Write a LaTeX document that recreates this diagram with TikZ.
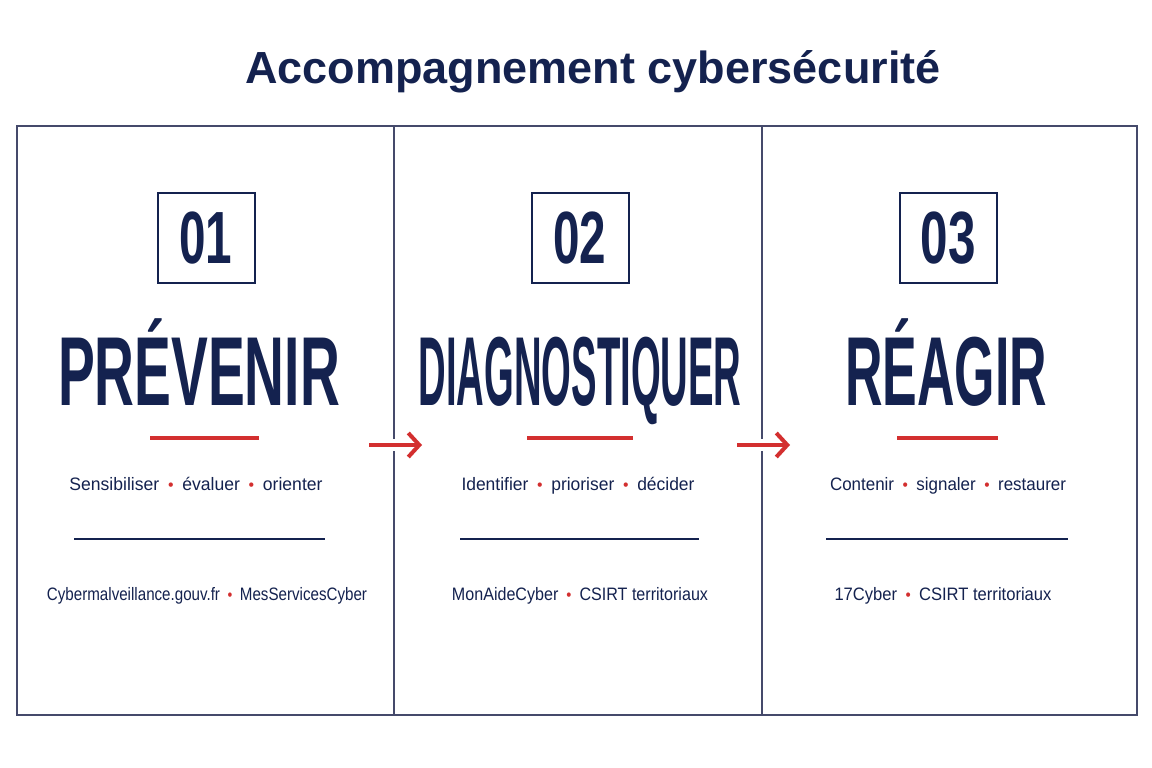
\documentclass[tikz,border=0pt]{standalone}
\usepackage{fontspec}
\setmainfont{Liberation Sans}
\usetikzlibrary{arrows.meta, positioning}
\definecolor{navy}{HTML}{14224F}
\definecolor{framegray}{HTML}{454A6B}
\definecolor{accred}{HTML}{D32F2F}
\newcommand{\dotsep}{\hspace{0.5em}{\color{accred}\scalebox{0.9}{\textbullet}}\hspace{0.5em}}
\newcommand{\squeeze}[2]{\resizebox{#1pt}{\height}{#2}}

\begin{document}
\begin{tikzpicture}[
    x=1pt, y=-1pt,
    panel/.style={rectangle, draw=framegray, line width=1.5pt, minimum height=589pt, anchor=north west, inner sep=0pt},
    numbox/.style={rectangle, draw=navy, line width=2pt, minimum width=97pt, minimum height=90pt, inner sep=0pt, text=navy, font=\fontsize{74}{74}\selectfont\bfseries},
    bigword/.style={anchor=base, inner sep=0pt, text=navy, font=\fontsize{98}{98}\selectfont\bfseries},
    tagline/.style={anchor=base, inner sep=0pt, text=navy, font=\fontsize{18}{18}\selectfont},
    redrule/.style={draw=accred, line width=3.5pt},
    navyrule/.style={draw=navy, line width=2.3pt},
    arrow/.style={draw=accred, line width=4pt, -{Straight Barb[length=11pt, width=24pt]},
        preaction={draw=white, line width=12pt, -}}
]
\useasboundingbox[fill=white] (0,0) rectangle (1152,768);

% Title
\node (title) [anchor=base, inner sep=0pt, text=navy, font=\fontsize{45}{45}\selectfont\bfseries] at (593,84) {Accompagnement cybersécurité};

% Panels
\node (p1) [panel, minimum width=377pt] at (16,125) {};
\node (p2) [panel, minimum width=368pt] at (393,125) {};
\node (p3) [panel, minimum width=375pt] at (761,125) {};

% Nodes
\node (n1) [numbox] at (206,238) {\squeeze{53}{01}};
\node (n2) [numbox] at (580,238) {\squeeze{53}{02}};
\node (n3) [numbox] at (948,238) {\squeeze{55}{03}};

\node (w1) [bigword] at (199,405) {\squeeze{282}{PRÉVENIR}};
\node (w2) [bigword] at (580,405) {\squeeze{323}{DIAGNOSTIQUER}};
\node (w3) [bigword] at (946,405) {\squeeze{202}{RÉAGIR}};

\node (v1) [tagline] at (196,490) {\squeeze{253}{Sensibiliser\dotsep évaluer\dotsep orienter}};
\node (v2) [tagline] at (578,490) {\squeeze{233}{Identifier\dotsep prioriser\dotsep décider}};
\node (v3) [tagline] at (948,490) {\squeeze{236}{Contenir\dotsep signaler\dotsep restaurer}};

\node (r1) [tagline] at (207,600) {\squeeze{320}{Cybermalveillance.gouv.fr\dotsep MesServicesCyber}};
\node (r2) [tagline] at (580,600) {\squeeze{256}{MonAideCyber\dotsep CSIRT territoriaux}};
\node (r3) [tagline] at (943,600) {\squeeze{217}{17Cyber\dotsep CSIRT territoriaux}};

% Rules
\draw [redrule] (150,438) -- (259,438);
\draw [redrule] (527,438) -- (633,438);
\draw [redrule] (897,438) -- (998,438);
\draw [navyrule] (74,539) -- (325,539);
\draw [navyrule] (460,539) -- (699,539);
\draw [navyrule] (826,539) -- (1068,539);

% Connections
\coordinate (a1s) at (369,445);
\coordinate (a1e) at (422,445);
\coordinate (a2s) at (737,445);
\coordinate (a2e) at (790,445);
\draw [arrow] (a1s) -- (a1e);
\draw [arrow] (a2s) -- (a2e);

\end{tikzpicture}
\end{document}
